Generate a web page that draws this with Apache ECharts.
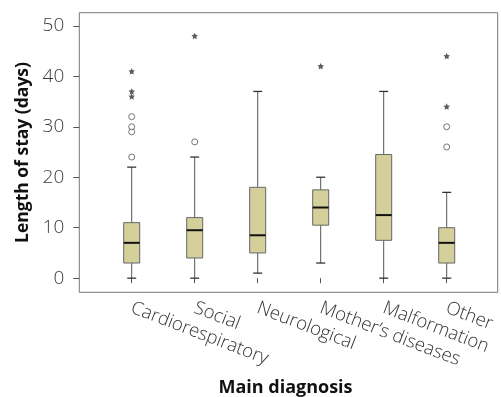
<!DOCTYPE html>
<html>
<head>
<meta charset="utf-8">
<script src="https://cdn.jsdelivr.net/npm/echarts@6/dist/echarts.min.js"></script>
<style>html,body{margin:0;padding:0;background:#fff}#c{width:501px;height:397px}</style>
</head>
<body>
<div id="c"></div>
<script>
const categories = ['Cardiorespiratory', 'Social', 'Neurological', "Mother\u2019s diseases", 'Malformation', 'Other'];
const whiskerMin = [0, 0, 1, 3, 0, 0];
const q1 = [3, 4, 5, 10.5, 7.5, 3];
const medians = [7, 9.5, 8.5, 14, 12.5, 7];
const q3 = [11, 12, 18, 17.5, 24.5, 10];
const whiskerMax = [22, 24, 37, 20, 37, 17];
const circleOutliers = [[24, 29, 30, 32], [27], [], [], [], [26, 30]];
const starOutliers = [[36, 37, 41], [48], [], [42], [], [34, 44]];
const yTicks = [0, 10, 20, 30, 40, 50];

const boxData = categories.map((c, i) => [i, whiskerMin[i], q1[i], medians[i], q3[i], whiskerMax[i]]);
const circleData = [];
const starData = [];
categories.forEach((c, i) => {
  circleOutliers[i].forEach(v => circleData.push([i, v]));
  starOutliers[i].forEach(v => starData.push([i, v]));
});

const FONT = '"Open Sans", sans-serif';
const yMin = -2.8, yMax = 52.6;
const chart = echarts.init(document.getElementById('c'), null, {renderer: 'canvas'});
chart.setOption({
  backgroundColor: '#fff',
  animation: false,
  grid: [
    {left: 79.3, right: 3.3, top: 12.7, bottom: 104.7, show: true, borderColor: '#777', borderWidth: 1, backgroundColor: 'transparent', outerBoundsMode: 'none', containLabel: false},
    {left: 100.2, right: 22.8, top: 12.7, bottom: 104.7, outerBoundsMode: 'none', containLabel: false}
  ],
  xAxis: [
    {gridIndex: 0, type: 'value', min: 0, max: 1, axisLine: {show: false}, axisTick: {show: false}, axisLabel: {show: false}, splitLine: {show: false},
     name: 'Main diagnosis', nameLocation: 'middle', nameGap: 87,
     nameTextStyle: {fontFamily: FONT, fontWeight: 'bold', fontSize: 18, color: '#111', padding: [0, 6, 0, 0]}},
    {gridIndex: 1, type: 'category', data: categories, boundaryGap: true,
     axisLine: {show: false},
     axisTick: {show: true, alignWithLabel: true, length: 5, lineStyle: {color: '#555'}},
     axisLabel: {rotate: -21, margin: 15, fontFamily: FONT, fontSize: 18.5, fontWeight: 300, color: '#333', interval: 0},
     splitLine: {show: false}}
  ],
  yAxis: [
    {gridIndex: 0, type: 'value', min: yMin, max: yMax,
     axisLine: {show: false},
     axisTick: {show: true, length: 6, customValues: yTicks, lineStyle: {color: '#555'}},
     axisLabel: {customValues: yTicks, margin: 15, fontFamily: FONT, fontSize: 19, fontWeight: 300, color: '#3a3a3a'},
     splitLine: {show: false},
     name: 'Length of stay (days)', nameLocation: 'middle', nameGap: 44,
     nameTextStyle: {fontFamily: FONT, fontWeight: 'bold', fontSize: 17.5, color: '#111'}},
    {gridIndex: 1, type: 'value', min: yMin, max: yMax, show: false, splitLine: {show: false}}
  ],
  series: [
    {
      type: 'custom', xAxisIndex: 1, yAxisIndex: 1, data: boxData,
      renderItem: function (params, api) {
        const i = api.value(0);
        const pMin = api.coord([i, api.value(1)]);
        const pQ1 = api.coord([i, api.value(2)]);
        const pMed = api.coord([i, api.value(3)]);
        const pQ3 = api.coord([i, api.value(4)]);
        const pMax = api.coord([i, api.value(5)]);
        const x = pMin[0];
        const hw = 8, cw = 4.5;
        const lineStyle = {stroke: '#555', lineWidth: 1};
        return {
          type: 'group',
          children: [
            {type: 'line', shape: {x1: x, y1: pMin[1], x2: x, y2: pQ1[1]}, style: lineStyle},
            {type: 'line', shape: {x1: x, y1: pQ3[1], x2: x, y2: pMax[1]}, style: lineStyle},
            {type: 'line', shape: {x1: x - cw, y1: pMin[1], x2: x + cw, y2: pMin[1]}, style: {stroke: '#333', lineWidth: 1.3}},
            {type: 'line', shape: {x1: x - cw, y1: pMax[1], x2: x + cw, y2: pMax[1]}, style: {stroke: '#333', lineWidth: 1.3}},
            {type: 'rect', shape: {x: x - hw, y: pQ3[1], width: 2 * hw, height: pQ1[1] - pQ3[1]}, style: {fill: '#d5d09b', stroke: '#666', lineWidth: 1}},
            {type: 'line', shape: {x1: x - hw, y1: pMed[1], x2: x + hw, y2: pMed[1]}, style: {stroke: '#111', lineWidth: 2}}
          ]
        };
      }
    },
    {
      type: 'scatter', xAxisIndex: 1, yAxisIndex: 1, data: circleData,
      symbol: 'circle', symbolSize: 6,
      itemStyle: {color: '#fff', borderColor: '#555', borderWidth: 1}
    },
    {
      type: 'scatter', xAxisIndex: 1, yAxisIndex: 1, data: starData,
      symbol: 'path://M0,-10 L2.9,-4 9.5,-3.1 4.8,1.5 5.9,8.1 0,5 -5.9,8.1 -4.8,1.5 -9.5,-3.1 -2.9,-4Z',
      symbolSize: 6.5,
      itemStyle: {color: '#333'}
    }
  ]
});
</script>
</body>
</html>
